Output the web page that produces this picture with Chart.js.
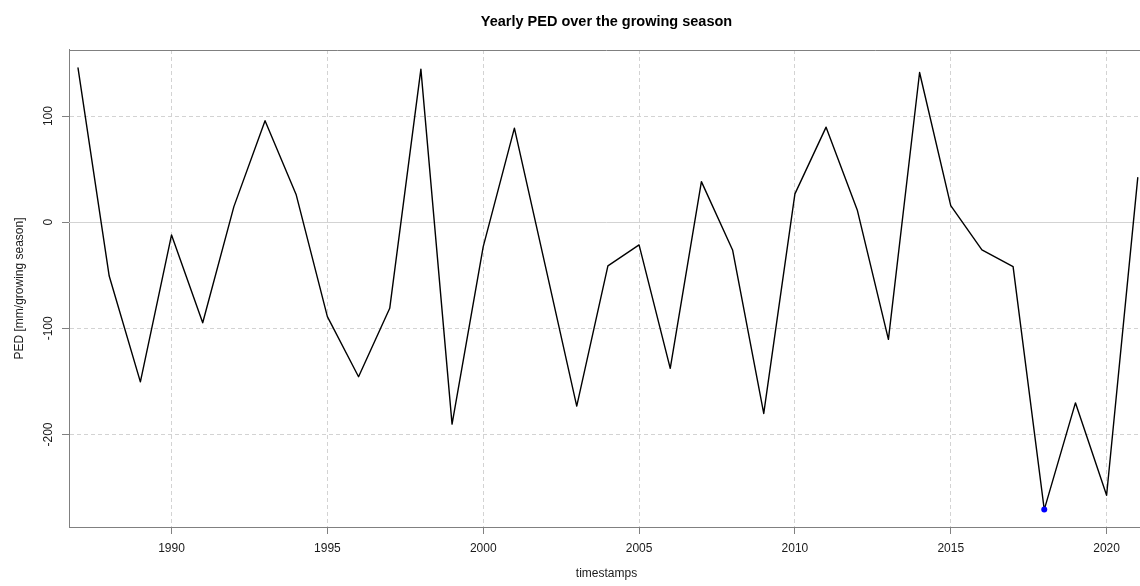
<!DOCTYPE html>
<html>
<head>
<meta charset="utf-8">
<title>Yearly PED over the growing season</title>
<script src="https://cdn.jsdelivr.net/npm/chart.js@4.4.1/dist/chart.umd.min.js"></script>
<style>
html, body { margin: 0; padding: 0; overflow: hidden; background: #fff; }
#wrap { position: relative; width: 1144px; height: 586px; }
</style>
</head>
<body>
<div id="wrap"><canvas id="pedChart"></canvas></div>
<script>
// yearly values
var years = [1987, 1988, 1989, 1990, 1991, 1992, 1993, 1994, 1995, 1996,
             1997, 1998, 1999, 2000, 2001, 2002, 2003, 2004, 2005, 2006,
             2007, 2008, 2009, 2010, 2011, 2012, 2013, 2014, 2015, 2016,
             2017, 2018, 2019, 2020, 2021];
var ped = [145.3, -50.7, -150.4, -12, -94.7, 14.7, 95.6, 25.8, -89, -145.6,
           -81.1, 144.3, -190.3, -23, 88.7, -42, -173.3, -41.2, -21.4, -137.7,
           38.3, -26.1, -180.2, 26.7, 89.6, 11.6, -110.4, 141.1, 15.7, -26.1,
           -41.9, -270.8, -170.2, -257.3, 42];
var xTicks = [1990, 1995, 2000, 2005, 2010, 2015, 2020];
var yTicks = [-200, -100, 0, 100];
var xRange = [1986.71, 2021.2];
var yRange = [-287.2, 162.3];

var minIdx = ped.indexOf(Math.min.apply(null, ped));
var font = 'Liberation Sans, Arial, sans-serif';
var textCol = '#1a1a1a';
var axisCol = '#808080';
var gridCol = '#d3d3d3';

// top frame line + solid zero line (abline h=0)
var frameLines = {
    id: 'frameLines',
    beforeDatasetsDraw: function (chart) {
        var c = chart.ctx, a = chart.chartArea;
        var y0 = Math.round(chart.scales.y.getPixelForValue(0)) + 0.5;
        var yt = Math.round(a.top) + 0.5;
        c.save();
        c.lineWidth = 1;
        c.strokeStyle = gridCol;
        c.beginPath(); c.moveTo(a.left, y0); c.lineTo(a.right, y0); c.stroke();
        c.strokeStyle = axisCol;
        c.beginPath(); c.moveTo(a.left, yt); c.lineTo(a.right, yt); c.stroke();
        c.restore();
    }
};

var ctx = document.getElementById('pedChart').getContext('2d');

var pedChart = new Chart(ctx, {
    type: 'line',
    data: {
        datasets: [{
            label: 'PED',
            data: years.map(function (y, i) { return { x: y, y: ped[i] }; }),
            borderColor: '#000000',
            borderWidth: 1.4,
            borderJoinStyle: 'round',
            borderCapStyle: 'round',
            tension: 0,
            pointRadius: function (c) { return c.dataIndex === minIdx ? 3 : 0; },
            pointBackgroundColor: '#0000ff',
            pointBorderWidth: 0
        }]
    },
    options: {
        responsive: true,
        maintainAspectRatio: false,
        devicePixelRatio: 1,
        animation: false,
        layout: { padding: 0 },
        plugins: {
            legend: { display: false },
            tooltip: { enabled: false },
            title: {
                display: true,
                text: 'Yearly PED over the growing season',
                fullSize: false,
                color: '#000000',
                font: { family: font, size: 14.5, weight: 'bold' },
                padding: { top: 13.2, bottom: 19.4 }
            }
        },
        scales: {
            x: {
                type: 'linear',
                min: xRange[0],
                max: xRange[1],
                afterBuildTicks: function (s) { s.ticks = xTicks.map(function (v) { return { value: v }; }); },
                afterFit: function (s) { s.height = 59; },
                ticks: {
                    color: textCol,
                    font: { family: font, size: 12 },
                    padding: 7,
                    maxRotation: 0,
                    callback: function (v) { return String(v); }
                },
                grid: { color: gridCol, lineWidth: 1, tickColor: axisCol, tickLength: 7 },
                border: { color: axisCol, width: 1, dash: [4, 3] },
                title: {
                    display: true,
                    text: 'timestamps',
                    color: textCol,
                    font: { family: font, size: 12 },
                    padding: { top: 0, bottom: 5 }
                }
            },
            y: {
                type: 'linear',
                min: yRange[0],
                max: yRange[1],
                afterBuildTicks: function (s) { s.ticks = yTicks.map(function (v) { return { value: v }; }); },
                afterFit: function (s) { s.width = 69; },
                ticks: {
                    color: textCol,
                    font: { family: font, size: 12 },
                    padding: 1,
                    minRotation: 90,
                    maxRotation: 90,
                    crossAlign: 'center',
                    callback: function (v) { return String(v); }
                },
                grid: { color: gridCol, lineWidth: 1, tickColor: axisCol, tickLength: 7 },
                border: { color: axisCol, width: 1, dash: [4, 3] },
                title: {
                    display: true,
                    text: 'PED [mm/growing season]',
                    color: textCol,
                    font: { family: font, size: 12 },
                    padding: { top: 12, bottom: 0 }
                }
            }
        }
    },
    plugins: [frameLines]
});
</script>
</body>
</html>
